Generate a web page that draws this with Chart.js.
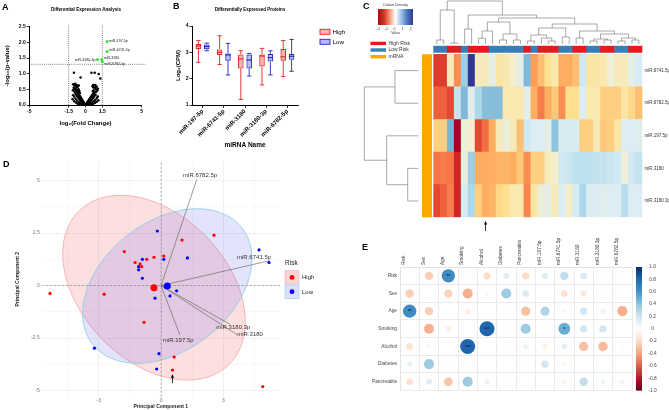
<!DOCTYPE html>
<html>
<head>
<meta charset="utf-8">
<title>miRNA panels</title>
<script src="https://cdn.jsdelivr.net/npm/chart.js@4.4.1/dist/chart.umd.min.js"></script>
<style>
  html, body { margin: 0; padding: 0; background: #fff; }
  #figure { position: relative; width: 669px; height: 410px; overflow: hidden; background: #fff; }
  #figure canvas { position: absolute; }
</style>
</head>
<body>
<div id="figure">
  <canvas id="chartA" width="150" height="140" style="left:0px;top:0px"></canvas>
  <canvas id="chartB" width="220" height="150" style="left:140px;top:0px"></canvas>
  <canvas id="chartC" width="329" height="240" style="left:340px;top:0px"></canvas>
  <canvas id="chartD" width="340" height="260" style="left:0px;top:150px"></canvas>
  <canvas id="chartE" width="329" height="174" style="left:340px;top:236px"></canvas>
</div>
<script>
// ---------- A: volcano ----------
const volcanoPoints = [
  [-0.04,0.02],[-0.08,0.04],[-0.12,0.05],[-0.16,0.08],[-0.2,0.1],[-0.24,0.12],[-0.28,0.15],[-0.32,0.17],
  [-0.36,0.2],[-0.4,0.22],[-0.44,0.24],[-0.48,0.27],[-0.52,0.29],[-0.56,0.31],[-0.6,0.34],[-0.64,0.36],
  [-0.68,0.38],[-0.72,0.41],[-0.76,0.43],[-0.8,0.45],[-0.1,0.01],[-0.18,0.03],[-0.26,0.06],[-0.34,0.1],
  [-0.42,0.13],[-0.5,0.17],[-0.58,0.21],[-0.66,0.25],[-0.74,0.29],[-0.82,0.33],[-0.9,0.37],[-0.3,0.02],
  [-0.45,0.05],[-0.6,0.09],[-0.75,0.14],[-0.88,0.2],[-1.0,0.26],[-1.1,0.31],[-0.55,0.02],[-0.7,0.04],
  [-0.85,0.08],[-1.0,0.12],[-1.15,0.18],
  [0.04,0.02],[0.08,0.04],[0.12,0.06],[0.16,0.08],[0.2,0.1],[0.24,0.12],[0.28,0.14],[0.32,0.16],
  [0.36,0.19],[0.4,0.21],[0.44,0.23],[0.48,0.25],[0.52,0.27],[0.56,0.29],[0.6,0.31],[0.64,0.33],
  [0.68,0.35],[0.72,0.37],[0.76,0.38],[0.8,0.4],[0.1,0.01],[0.18,0.03],[0.26,0.06],[0.34,0.09],
  [0.42,0.12],[0.5,0.15],[0.58,0.18],[0.66,0.22],[0.74,0.26],[0.82,0.3],[0.9,0.33],[0.3,0.02],
  [0.45,0.05],[0.6,0.08],[0.75,0.12],[0.88,0.17],[1.0,0.22],[1.1,0.27],[0.55,0.02],[0.7,0.04],
  [0.85,0.07],[1.0,0.1],[1.15,0.15],
  [-1.1,0.66],[-1.0,0.62],[-0.92,0.68],[-0.85,0.6],[-0.78,0.64],[-1.05,0.55],[-0.95,0.52],[-0.88,0.48],
  [-0.8,0.55],[-0.7,0.58],[-0.62,0.5],[-0.72,0.48],[-0.65,0.42],[-0.55,0.45],[-1.12,0.47],[-0.98,0.42],
  [-0.5,0.38],[-0.6,0.62],
  [0.62,0.6],[0.7,0.56],[0.78,0.62],[0.85,0.55],[0.92,0.5],[1.0,0.58],[1.05,0.46],[0.95,0.42],
  [0.72,0.47],[0.65,0.44],[1.1,0.52],[0.88,0.64],
  [-1.03,1.03],[-0.44,0.88],[0.53,1.03],[0.82,1.03],[1.18,0.99],[1.32,0.85],[0.68,0.64],[0.88,0.59]
];
const sigPoints = [[1.92,2.03],[1.92,1.71],[1.07,1.45],[1.44,1.45],[1.5,1.38]];
const sigLabels = ['miR-197-5p','miR-6741-5p','miR-3180-3p','miR-3180','miR-6782-5p'];
const foldCut = 1.5;
const pCut = 1.3;
const volcanoTicksX = [-5, -1.5, 0, 1.5, 5];

// ---------- B: box plots ----------
const boxLabels = ['miR-197-5p','miR-6741-5p','miR-3180','miR-3180-3p','miR-6782-5p'];
const highMin = [2.62, 2.54, 1.21, 1.76, 2.08];
const highQ1  = [3.13, 2.90, 2.39, 2.46, 2.68];
const highMed = [3.24, 3.00, 2.75, 2.86, 2.83];
const highQ3  = [3.32, 3.11, 2.92, 2.92, 3.13];
const highMax = [3.45, 3.63, 3.06, 3.15, 3.45];
const lowMin  = [3.06, 2.14, 2.10, 2.14, 2.28];
const lowQ1   = [3.12, 2.68, 2.39, 2.65, 2.72];
const lowMed  = [3.22, 2.90, 2.71, 2.80, 2.85];
const lowQ3   = [3.30, 2.96, 2.92, 2.94, 2.94];
const lowMax  = [3.35, 3.34, 2.96, 3.06, 3.49];

// ---------- C: heatmap ----------
const heatSamples = ['S1','S2','S3','S4','S5','S6','S7','S8','S9','S10','S11','S12','S13','S14','S15',
  'S16','S17','S18','S19','S20','S21','S22','S23','S24','S25','S26','S27','S28','S29','S30'];
const riskGroups = ['Low','Low','High','High','Low','High','High','High','Low','Low','Low','Low','Low','High','Low',
  'High','High','High','Low','Low','High','High','Low','Low','High','High','Low','Low','High','High'];
const heatRows = ['miR.6741.5p','miR.6782.5p','miR.197.5p','miR.3180','miR.3180.3p'];
const heatValues = [
  [-1.4,-1.4,-0.1,-0.8,0.8,2.0,-0.1,-0.1,0.2,-0.2,-0.15,0.0,0.2,1.0,-0.7,-0.5,-0.3,-0.15,-0.6,-0.6,-0.5,0.4,-0.2,-0.2,-0.15,0.05,-0.1,-0.1,0.2,0.35],
  [-1.1,-1.1,-1.3,0.5,1.0,0.25,0.7,0.95,0.95,0.95,-0.15,-0.15,-0.15,0.2,-0.6,-0.9,-0.6,-0.45,-0.8,-0.3,-0.3,0.3,-0.15,-0.15,-0.4,-0.4,-0.4,-0.2,-0.35,-0.5],
  [-0.4,-0.4,1.05,-2.0,0.05,0.0,-1.3,-1.0,-0.6,-0.1,0.1,-0.1,-0.5,0.4,0.3,0.3,0.2,0.9,0.35,0.35,0.35,-0.4,-0.4,-0.1,-0.45,-0.4,-0.2,0.3,0.3,0.25],
  [-0.95,-0.9,-0.95,-1.6,0.1,0.8,-0.6,-0.6,-0.6,-0.55,-0.55,-0.6,-0.45,-0.8,-0.4,-0.4,-0.1,0.0,0.4,0.45,0.55,0.55,0.55,0.5,0.5,0.45,0.4,0.05,0.4,0.5],
  [-1.3,-1.1,-0.9,-1.6,0.35,0.7,-0.4,-0.6,-0.55,-0.35,-0.3,-0.15,-0.15,-0.85,-0.2,0.1,0.2,-0.1,0.3,-0.05,0.35,0.7,0.3,0.3,0.25,0.3,0.3,0.6,0.3,0.3]
];
// [height, left, right]; leaves are column / row indices
const colTree = [43,
  [34, [4, 0, 1], [1, 2, 3]],
  [29, [15, 4, 5],
    [26,
      [22, [13, [5.7, 6, 7], 8], [10, [4, 9, 10], [4, 11, 12]]],
      [20,
        [16, [9, [3, 13, 14], [6, 15, [3, 16, 17]]], [7, 18, 19]],
        [13, [6, 20, 21], [10, [5, [3, 22, 23], [4, 24, 25]], [6, [3, 26, 27], [4, 28, 29]]]]]]]];
const rowTree = [54, [23.3, 0, 1], [31.6, 2, [10.6, 3, 4]]];
const keyTicks = [-2, -1, 0, 1, 2];
const arrowColumn = 7;

// ---------- D: PCA ----------
const pcaHigh = [[-5.35,-0.37],[-2.74,-0.41],[-1.77,1.62],[-1.25,1.10],[-1.01,1.03],[-0.93,0.90],[-0.69,1.25],
  [-0.34,1.35],[0.13,1.41],[1.01,2.17],[2.55,2.40],[-0.82,-1.75],[0.63,-3.40],[0.55,-4.02],[4.90,-4.81]];
const pcaLow = [[-0.18,2.60],[-0.90,1.25],[-1.08,0.90],[-1.08,0.75],[-0.90,0.35],[0.13,1.25],[1.27,1.32],
  [4.72,1.70],[5.20,1.10],[-0.29,-0.60],[0.43,-0.49],[0.75,-0.25],[-3.21,-2.98],[-0.10,-3.24],[-0.21,-3.97]];
const centroidHigh = [-0.34, -0.10];
const centroidLow = [0.30, -0.02];
const ellipseHigh = [-0.34, -0.10, 5.14, 3.5, -45];   // cx, cy, semi-major, semi-minor, angle
const ellipseLow = [0.30, -0.02, 4.54, 3.09, 36.9];
const loadingNames = ['miR.6782.5p','miR.6741.5p','miR.3180.3p','miR.3180','miR.197.5p'];
const loadingTips = [[1.72,5.06],[5.25,1.19],[3.32,-1.84],[3.68,-2.35],[0.91,-2.35]];
const loadingLabelAt = [[1.88,5.24],[4.48,1.36],[3.48,-1.98],[4.29,-2.30],[0.83,-2.59]];
const pcaTicksX = [-4.5, -3, -1.5, 0, 1.5, 3, 4.5];
const pcaTicksY = [-5, -3.75, -2.5, -1.25, 0, 1.25, 2.5, 3.75, 5];
const pcaArrow = [0.55, -4.65, -4.22];

// ---------- E: correlation ----------
const corrRows = ['Risk','Sex','Age','Smoking','Alcohol','Diabetes','Pancreatitis'];
const corrCols = ['Risk','Sex','Age','Smoking','Alcohol','Diabetes','Pancreatitis',
  'miR.197.5p','miR.6741.5p','miR.3180','miR.3180.3p','miR.6782.5p'];
const corrValues = [
  [null,-0.25,0.63,0.02,-0.19,0.13,-0.19,0.13,0.25,0.16,0.04,0.01],
  [-0.25,null,-0.23,-0.36,-0.06,0.36,0.16,0,-0.16,-0.13,-0.01,-0.01],
  [0.63,-0.25,null,-0.1,0,-0.02,-0.3,0.3,-0.06,0.19,0.09,-0.36],
  [0.01,-0.36,-0.1,null,0.8,-0.02,0.36,-0.02,0.5,0.19,0.19,0],
  [-0.16,-0.06,0,0.8,null,0.005,0.09,-0.08,0.12,-0.3,-0.32,0.04],
  [0.09,0.36,-0.02,-0.01,0.005,null,-0.04,0.19,-0.06,0,0,0],
  [-0.16,0.13,-0.28,0.36,0.1,-0.04,null,0,-0.08,0.25,0.08,0.08]
];
const corrStars = [['Risk','Age','**'],['Age','Risk','**'],['Smoking','Alcohol','***'],['Alcohol','Smoking','***'],['Smoking','miR.6741.5p','*']];

// ---------- helpers ----------
const FONT = '"Liberation Sans", Arial, Helvetica, sans-serif';
Chart.defaults.font.family = FONT;
Chart.defaults.animation = false;
Chart.defaults.responsive = false;
Chart.defaults.plugins.legend.display = false;
Chart.defaults.plugins.tooltip.enabled = false;

const heatStops = [[-2,'#a50026'],[-1.5,'#d73027'],[-1.0,'#f46d43'],[-0.6,'#fdae61'],[-0.3,'#fee090'],
  [0,'#f3efcf'],[0.3,'#dcedf3'],[0.7,'#abd9e9'],[1.1,'#74add1'],[1.6,'#4575b4'],[2,'#313695']];
const corrStops = [[-1,'#67001f'],[-0.8,'#b2182b'],[-0.6,'#d6604d'],[-0.4,'#f4a582'],[-0.2,'#fddbc7'],
  [0,'#ffffff'],[0.2,'#d1e5f0'],[0.4,'#92c5de'],[0.6,'#4393c3'],[0.8,'#2166ac'],[1,'#053061']];
const keyStops = [[0,'#a50f15'],[0.17,'#d7301f'],[0.35,'#f4a582'],[0.5,'#ffffff'],[0.65,'#a6c8e6'],[0.83,'#4d79c4'],[1,'#313a8f']];

function hexToRgb(h) { const n = parseInt(h.slice(1), 16); return [(n >> 16) & 255, (n >> 8) & 255, n & 255]; }
function rampColor(stops, v) {
  if (v <= stops[0][0]) return stops[0][1];
  for (let i = 1; i < stops.length; i++) {
    if (v <= stops[i][0]) {
      const t = (v - stops[i - 1][0]) / (stops[i][0] - stops[i - 1][0]);
      const a = hexToRgb(stops[i - 1][1]), b = hexToRgb(stops[i][1]);
      return 'rgb(' + a.map((c, k) => Math.round(c + (b[k] - c) * t)).join(',') + ')';
    }
  }
  return stops[stops.length - 1][1];
}
function fnt(size, weight) { return (weight || 'normal') + ' ' + size + 'px ' + FONT; }

// free text drawn on a chart (panel letters, titles)
function notes(items) {
  return {
    id: 'notes',
    afterDraw(chart) {
      const ctx = chart.ctx;
      items.forEach(n => {
        ctx.save();
        ctx.font = n.font;
        ctx.fillStyle = n.color || '#000';
        ctx.textAlign = n.align || 'left';
        ctx.textBaseline = 'middle';
        ctx.translate(n.x, n.y);
        if (n.rot) ctx.rotate(n.rot);
        ctx.fillText(n.text, 0, 0);
        ctx.restore();
      });
    }
  };
}

const prismGrid = { drawOnChartArea: false, color: '#000', lineWidth: 0.8, tickLength: 2.5 };
const prismBorder = { color: '#000', width: 1 };
const dotted = { borderColor: '#222', borderWidth: 0.7, borderDash: [0.8, 1.3], pointRadius: 0, clip: false, fill: false };

// ================= A =================
const sigLabelPlugin = {
  id: 'sigLabels',
  afterDatasetsDraw(chart) {
    const ctx = chart.ctx;
    const meta = chart.getDatasetMeta(0);
    ctx.save();
    ctx.font = fnt(3.6);
    ctx.fillStyle = '#222';
    ctx.textBaseline = 'middle';
    meta.data.forEach((pt, i) => {
      const left = i === 2;
      const dy = i === 3 ? -1.6 : (i === 4 ? 2.4 : (i === 1 ? -1 : 0));
      ctx.textAlign = left ? 'right' : 'left';
      ctx.fillText(sigLabels[i], pt.x + (left ? -2 : 2), pt.y + dy);
    });
    ctx.restore();
  }
};

new Chart(document.getElementById('chartA'), {
  type: 'scatter',
  data: {
    datasets: [
      { data: sigPoints.map(p => ({ x: p[0], y: p[1] })), backgroundColor: '#37e037', pointRadius: 1.5, borderWidth: 0, order: 0 },
      { data: volcanoPoints.map(p => ({ x: p[0], y: p[1] })), backgroundColor: '#000', pointRadius: 1.25, borderWidth: 0, order: 1 },
      Object.assign({ type: 'line', data: [{ x: -foldCut, y: 0 }, { x: -foldCut, y: 2.56 }], order: 2 }, dotted),
      Object.assign({ type: 'line', data: [{ x: foldCut, y: 0 }, { x: foldCut, y: 2.56 }], order: 2 }, dotted),
      Object.assign({ type: 'line', data: [{ x: -5, y: pCut }, { x: 5.4, y: pCut }], order: 2 }, dotted)
    ]
  },
  options: {
    layout: { padding: { left: 0, top: 26.7, right: 8.3, bottom: 0 } },
    scales: {
      x: {
        type: 'linear', min: -5, max: 5,
        afterBuildTicks: s => { s.ticks = volcanoTicksX.map(v => ({ value: v })); },
        afterFit: s => { s.height = 35; },
        ticks: { font: { size: 5, weight: 'bold' }, color: '#000', padding: 1, maxRotation: 0, autoSkip: false, callback: v => String(v) },
        grid: prismGrid, border: prismBorder,
        title: { display: true, text: 'log\u2082(Fold Change)', font: { size: 6, weight: 'bold' }, color: '#000', padding: { top: 0, bottom: 13.4 } }
      },
      y: {
        type: 'linear', min: 0, max: 2.5,
        afterFit: s => { s.width = 29.3; },
        ticks: { stepSize: 0.5, font: { size: 5, weight: 'bold' }, color: '#000', padding: 1, callback: v => v.toFixed(1) },
        grid: prismGrid, border: prismBorder,
        title: { display: true, text: '-log\u2081\u2080(p-value)', font: { size: 6, weight: 'bold' }, color: '#000', padding: { top: 3.4, bottom: 0 } }
      }
    }
  },
  plugins: [sigLabelPlugin, notes([
    { text: 'A', x: 2, y: 8, font: fnt(9, 'bold') },
    { text: 'Differential Expression Analysis', x: 86, y: 10, font: fnt(4.6, 'bold'), align: 'center' }
  ])]
});

// ================= B =================
const boxWhiskers = {
  id: 'boxWhiskers',
  afterDatasetsDraw(chart) {
    const ctx = chart.ctx, y = chart.scales.y;
    chart.data.datasets.forEach((ds, di) => {
      const meta = chart.getDatasetMeta(di);
      const s = ds.stats;
      meta.data.forEach((bar, i) => {
        const half = bar.width / 2;
        const yMax = y.getPixelForValue(s.max[i]), yMin = y.getPixelForValue(s.min[i]);
        ctx.save();
        ctx.strokeStyle = ds.borderColor;
        ctx.lineWidth = 0.9;
        ctx.beginPath();
        ctx.moveTo(bar.x, yMax); ctx.lineTo(bar.x, y.getPixelForValue(s.q3[i]));
        ctx.moveTo(bar.x, y.getPixelForValue(s.q1[i])); ctx.lineTo(bar.x, yMin);
        ctx.moveTo(bar.x - half * 0.8, yMax); ctx.lineTo(bar.x + half * 0.8, yMax);
        ctx.moveTo(bar.x - half * 0.8, yMin); ctx.lineTo(bar.x + half * 0.8, yMin);
        ctx.stroke();
        ctx.lineWidth = 1.1;
        ctx.beginPath();
        const yMed = y.getPixelForValue(s.med[i]);
        ctx.moveTo(bar.x - half, yMed); ctx.lineTo(bar.x + half, yMed);
        ctx.stroke();
        ctx.restore();
      });
    });
  }
};
const legendB = {
  id: 'legendB',
  afterDraw(chart) {
    const ctx = chart.ctx;
    [['High', '#e82020', 'rgba(238,40,40,0.35)', 29.3], ['Low', '#2222d0', 'rgba(60,60,225,0.35)', 39.3]].forEach(([t, stroke, fill, y]) => {
      ctx.save();
      ctx.fillStyle = fill; ctx.strokeStyle = stroke; ctx.lineWidth = 0.9;
      ctx.fillRect(180, y, 10, 5); ctx.strokeRect(180, y, 10, 5);
      ctx.fillStyle = '#000'; ctx.font = fnt(6.2); ctx.textBaseline = 'middle';
      ctx.fillText(t, 192.5, y + 2.6);
      ctx.restore();
    });
  }
};

new Chart(document.getElementById('chartB'), {
  type: 'bar',
  data: {
    labels: boxLabels,
    datasets: [
      { label: 'High', data: highQ1.map((q, i) => [q, highQ3[i]]), backgroundColor: 'rgba(238,40,40,0.35)', borderColor: '#e82020',
        borderWidth: 1, borderSkipped: false, barPercentage: 0.66, categoryPercentage: 0.79,
        stats: { min: highMin, q1: highQ1, med: highMed, q3: highQ3, max: highMax } },
      { label: 'Low', data: lowQ1.map((q, i) => [q, lowQ3[i]]), backgroundColor: 'rgba(60,60,225,0.35)', borderColor: '#2222d0',
        borderWidth: 1, borderSkipped: false, barPercentage: 0.66, categoryPercentage: 0.79,
        stats: { min: lowMin, q1: lowQ1, med: lowMed, q3: lowQ3, max: lowMax } }
    ]
  },
  options: {
    layout: { padding: { left: 0, top: 26, right: 62, bottom: 0 } },
    scales: {
      x: {
        afterFit: s => { s.height = 45; },
        ticks: { font: { size: 6, weight: 'bold' }, color: '#000', maxRotation: 45, minRotation: 45, padding: 0, autoSkip: false },
        grid: Object.assign({ offset: false }, prismGrid, { tickLength: 3 }), border: prismBorder,
        title: { display: true, text: 'miRNA Name', font: { size: 6.5, weight: 'bold' }, color: '#000', padding: { top: 0, bottom: 1 } }
      },
      y: {
        min: 1, max: 4,
        afterFit: s => { s.width = 52; },
        ticks: { stepSize: 1, font: { size: 5, weight: 'bold' }, color: '#000', padding: 1 },
        grid: prismGrid, border: prismBorder,
        title: { display: true, text: 'Log\u2082(CPM)', font: { size: 6, weight: 'bold' }, color: '#000', padding: { top: 34.7, bottom: 0 } }
      }
    }
  },
  plugins: [boxWhiskers, legendB, notes([
    { text: 'B', x: 33, y: 7, font: fnt(9, 'bold') },
    { text: 'Differentially Expressed Proteins', x: 110, y: 10, font: fnt(4.5, 'bold'), align: 'center' }
  ])]
});

// ================= C =================
const annGap = 0.06, annHeight = 0.204;
function drawTree(ctx, node, pt) {
  if (typeof node === 'number') return { p: node, h: 0 };
  const a = drawTree(ctx, node[1], pt), b = drawTree(ctx, node[2], pt);
  const h = node[0];
  let q = pt(a.p, a.h); ctx.moveTo(q[0], q[1]);
  q = pt(a.p, h); ctx.lineTo(q[0], q[1]);
  q = pt(b.p, h); ctx.lineTo(q[0], q[1]);
  q = pt(b.p, b.h); ctx.lineTo(q[0], q[1]);
  return { p: (a.p + b.p) / 2, h: h };
}
const heatDecor = {
  id: 'heatDecor',
  afterDraw(chart) {
    const ctx = chart.ctx, xs = chart.scales.x, ys = chart.scales.y;
    ctx.save();
    // dendrograms
    ctx.strokeStyle = '#6e6e6e'; ctx.lineWidth = 0.6;
    ctx.beginPath();
    drawTree(ctx, colTree, (p, h) => [xs.getPixelForValue(p), 44 - h]);
    drawTree(ctx, rowTree, (p, h) => [78.3 - h, ys.getPixelForValue(heatRows.length - 0.5 - p)]);
    ctx.stroke();
    // mRNA annotation strip
    const top = ys.getPixelForValue(heatRows.length), bot = ys.getPixelForValue(0);
    ctx.fillStyle = '#ffa500';
    ctx.fillRect(82, top, 10, bot - top);
    // colour key
    const g = ctx.createLinearGradient(38, 0, 73, 0);
    keyStops.forEach(s => g.addColorStop(s[0], s[1]));
    ctx.fillStyle = g;
    ctx.fillRect(38, 9, 35, 16);
    ctx.fillStyle = '#333'; ctx.textAlign = 'center'; ctx.textBaseline = 'middle';
    ctx.font = fnt(3.8);
    ctx.fillText('Colour Density', 55.5, 5);
    ctx.font = fnt(3.5);
    keyTicks.forEach((t, i) => ctx.fillText(String(t), 38.3 + i * 8.1, 29));
    ctx.fillText('Value', 55.5, 33);
    // annotation legend
    [['High Risk', '#e41a1c', 41.7], ['Low Risk', '#377eb8', 48.3], ['mRNA', '#ffa500', 55]].forEach(([t, c, y]) => {
      ctx.fillStyle = c; ctx.fillRect(30.5, y, 15.5, 3.4);
      ctx.fillStyle = '#333'; ctx.textAlign = 'left'; ctx.font = fnt(5);
      ctx.fillText(t, 48.5, y + 1.8);
    });
    // arrow under the marked sample
    const ax = xs.getPixelForValue(arrowColumn);
    ctx.strokeStyle = '#000'; ctx.fillStyle = '#000'; ctx.lineWidth = 0.8;
    ctx.beginPath(); ctx.moveTo(ax, 231); ctx.lineTo(ax, 223.5); ctx.stroke();
    ctx.beginPath(); ctx.moveTo(ax, 221); ctx.lineTo(ax - 1.6, 224.5); ctx.lineTo(ax + 1.6, 224.5); ctx.closePath(); ctx.fill();
    ctx.restore();
  }
};
const heatDatasets = [];
for (let r = heatRows.length - 1; r >= 0; r--) {
  heatDatasets.push({ data: heatValues[r].map(() => 1), backgroundColor: heatValues[r].map(v => rampColor(heatStops, v)) });
}
heatDatasets.push({ data: riskGroups.map(() => annGap), backgroundColor: 'rgba(0,0,0,0)' });
heatDatasets.push({ data: riskGroups.map(() => annHeight), backgroundColor: riskGroups.map(g => g === 'High' ? '#e41a1c' : '#377eb8') });
heatDatasets.forEach(d => Object.assign(d, { barPercentage: 1, categoryPercentage: 1, borderWidth: 0 }));

new Chart(document.getElementById('chartC'), {
  type: 'bar',
  data: { labels: heatSamples, datasets: heatDatasets },
  options: {
    layout: { padding: { left: 93.3, top: 45.7, right: 0, bottom: 22.7 } },
    scales: {
      x: { stacked: true, display: false },
      y: {
        type: 'linear', stacked: true, position: 'right', min: 0, max: heatRows.length + annGap + annHeight,
        afterFit: s => { s.width = 26.6; },
        afterBuildTicks: s => { s.ticks = heatRows.map((_, i) => ({ value: heatRows.length - 0.5 - i })); },
        ticks: { callback: (v, i) => heatRows[i], font: { size: 4.5 }, color: '#333', padding: 2, autoSkip: false },
        grid: { display: false, drawTicks: false }, border: { display: false }
      }
    }
  },
  plugins: [heatDecor, notes([{ text: 'C', x: 23, y: 7, font: fnt(9, 'bold') }])]
});

// ================= D =================
const ellipsePlugin = {
  id: 'ellipses',
  beforeDatasetsDraw(chart) {
    const ctx = chart.ctx, xs = chart.scales.x, ys = chart.scales.y;
    [[ellipseHigh, 'rgba(240,100,100,0.2)', '#f4a4a4'], [ellipseLow, 'rgba(100,100,232,0.18)', '#86cbe8']].forEach(([e, fill, stroke]) => {
      const th = e[4] * Math.PI / 180;
      ctx.save();
      ctx.beginPath();
      for (let k = 0; k <= 144; k++) {
        const t = k / 144 * 2 * Math.PI;
        const dx = e[2] * Math.cos(t) * Math.cos(th) - e[3] * Math.sin(t) * Math.sin(th);
        const dy = e[2] * Math.cos(t) * Math.sin(th) + e[3] * Math.sin(t) * Math.cos(th);
        const px = xs.getPixelForValue(e[0] + dx), py = ys.getPixelForValue(e[1] + dy);
        if (k) ctx.lineTo(px, py); else ctx.moveTo(px, py);
      }
      ctx.closePath();
      ctx.fillStyle = fill; ctx.fill();
      ctx.strokeStyle = stroke; ctx.lineWidth = 0.8; ctx.stroke();
      ctx.restore();
    });
  },
  afterDatasetsDraw(chart) {
    const ctx = chart.ctx, xs = chart.scales.x, ys = chart.scales.y;
    ctx.save();
    ctx.font = fnt(6); ctx.fillStyle = '#333'; ctx.textAlign = 'center'; ctx.textBaseline = 'middle';
    loadingNames.forEach((n, i) => ctx.fillText(n, xs.getPixelForValue(loadingLabelAt[i][0]), ys.getPixelForValue(loadingLabelAt[i][1])));
    const ax = xs.getPixelForValue(pcaArrow[0]), y0 = ys.getPixelForValue(pcaArrow[1]), y1 = ys.getPixelForValue(pcaArrow[2]);
    ctx.strokeStyle = '#000'; ctx.fillStyle = '#000'; ctx.lineWidth = 0.8;
    ctx.beginPath(); ctx.moveTo(ax, y0); ctx.lineTo(ax, y1 + 2.5); ctx.stroke();
    ctx.beginPath(); ctx.moveTo(ax, y1); ctx.lineTo(ax - 1.6, y1 + 3.4); ctx.lineTo(ax + 1.6, y1 + 3.4); ctx.closePath(); ctx.fill();
    // legend
    ctx.textAlign = 'left';
    ctx.font = fnt(6.5); ctx.fillStyle = '#222';
    ctx.fillText('Risk', 285, 113.3);
    [['High', '#f9d4d4', '#f4b4b4', '#f00', 120.7], ['Low', '#dedef7', '#9ad3ef', '#00f', 135]].forEach(([t, fill, stroke, dot, y]) => {
      ctx.fillStyle = fill; ctx.fillRect(285, y, 14, 13.4);
      ctx.strokeStyle = stroke; ctx.lineWidth = 0.7; ctx.strokeRect(285, y, 14, 13.4);
      ctx.fillStyle = dot; ctx.beginPath(); ctx.arc(292, y + 6.7, 2.4, 0, 2 * Math.PI); ctx.fill();
      ctx.fillStyle = '#222'; ctx.font = fnt(6);
      ctx.fillText(t, 302, y + 6.9);
    });
    ctx.restore();
  }
};
const zeroLine = { type: 'line', borderColor: '#7a7a7a', borderWidth: 0.6, borderDash: [2, 2], pointRadius: 0, fill: false, order: 4 };
const pcaDatasets = [
  { data: [{ x: centroidHigh[0], y: centroidHigh[1] }], backgroundColor: '#f00', pointRadius: 3.5, borderWidth: 0, order: 0 },
  { data: [{ x: centroidLow[0], y: centroidLow[1] }], backgroundColor: '#00f', pointRadius: 3.5, borderWidth: 0, order: 0 },
  { data: pcaHigh.map(p => ({ x: p[0], y: p[1] })), backgroundColor: '#f00', pointRadius: 1.6, borderWidth: 0, order: 1 },
  { data: pcaLow.map(p => ({ x: p[0], y: p[1] })), backgroundColor: '#00f', pointRadius: 1.6, borderWidth: 0, order: 1 },
  Object.assign({}, zeroLine, { data: [{ x: 0, y: -5.29 }, { x: 0, y: 5.9 }] }),
  Object.assign({}, zeroLine, { data: [{ x: -5.75, y: 0 }, { x: 5.73, y: 0 }] })
];
loadingTips.forEach(t => pcaDatasets.push({ type: 'line', data: [{ x: 0, y: 0 }, { x: t[0], y: t[1] }],
  borderColor: '#5a5a5a', borderWidth: 0.6, pointRadius: 0, fill: false, order: 2 }));

new Chart(document.getElementById('chartD'), {
  type: 'scatter',
  data: { datasets: pcaDatasets },
  options: {
    layout: { padding: { left: 0, top: 11.7, right: 60, bottom: 0 } },
    scales: {
      x: {
        type: 'linear', min: -5.75, max: 5.73,
        afterBuildTicks: s => { s.ticks = pcaTicksX.map(v => ({ value: v })); },
        afterFit: s => { s.height = 13.3; },
        ticks: { font: { size: 5 }, color: '#777', padding: 1, maxRotation: 0, autoSkip: false, callback: v => (v % 3 === 0 ? String(v) : '') },
        grid: { color: c => (c.tick && c.tick.value % 3 === 0 ? '#e6e6e6' : '#f3f3f3'), lineWidth: 0.6, drawTicks: false },
        border: { display: false },
        title: { display: true, text: 'Principal Component 1', font: { size: 5, weight: 'bold' }, color: '#222', padding: { top: 0, bottom: 0 } }
      },
      y: {
        type: 'linear', min: -5.29, max: 5.9,
        afterBuildTicks: s => { s.ticks = pcaTicksY.map(v => ({ value: v })); },
        afterFit: s => { s.width = 41.7; },
        ticks: { font: { size: 5 }, color: '#777', padding: 2, autoSkip: false, callback: v => (v % 2.5 === 0 ? String(v) : '') },
        grid: { color: c => (c.tick && c.tick.value % 2.5 === 0 ? '#e6e6e6' : '#f3f3f3'), lineWidth: 0.6, drawTicks: false },
        border: { display: false },
        title: { display: true, text: 'Principal Component 2', font: { size: 5, weight: 'bold' }, color: '#222', padding: { top: 14.7, bottom: 0 } }
      }
    }
  },
  plugins: [ellipsePlugin, notes([{ text: 'D', x: 3, y: 15, font: fnt(9, 'bold') }])]
});

// ================= E =================
const corrPoints = [];
corrRows.forEach((rn, r) => corrCols.forEach((cn, c) => {
  const v = corrValues[r][c];
  if (v !== null) corrPoints.push({ x: cn, y: rn, v: v });
}));
const corrDecor = {
  id: 'corrDecor',
  afterDatasetsDraw(chart) {
    const ctx = chart.ctx, xs = chart.scales.x, ys = chart.scales.y, cb = chart.scales.y2;
    ctx.save();
    ctx.font = fnt(4.6, 'bold'); ctx.fillStyle = '#142a66'; ctx.textAlign = 'center'; ctx.textBaseline = 'middle';
    corrStars.forEach(s => ctx.fillText(s[2], xs.getPixelForValue(xs.parse(s[1])), ys.getPixelForValue(ys.parse(s[0])) + 0.8));
    const t = cb.getPixelForValue(1), b = cb.getPixelForValue(-1);
    const g = ctx.createLinearGradient(0, t, 0, b);
    corrStops.forEach(s => g.addColorStop((1 - s[0]) / 2, s[1]));
    ctx.fillStyle = g;
    ctx.fillRect(296, t, 6, b - t);
    ctx.restore();
  }
};
const corrGrid = { offset: true, color: '#dedede', lineWidth: 0.6, drawTicks: false };

new Chart(document.getElementById('chartE'), {
  type: 'bubble',
  data: {
    datasets: [{
      data: corrPoints,
      backgroundColor: c => rampColor(corrStops, c.raw.v),
      borderWidth: 0,
      radius: c => Math.sqrt(Math.abs(c.raw.v)) * 8.4,
      hoverRadius: 0
    }]
  },
  options: {
    layout: { padding: { left: 0, top: 0, right: 0, bottom: 8 } },
    scales: {
      x: {
        type: 'category', labels: corrCols, position: 'top', offset: true,
        afterFit: s => { s.height = 31; },
        ticks: { font: { size: 4.8 }, color: '#444', maxRotation: 90, minRotation: 90, padding: 2, autoSkip: false },
        grid: corrGrid, border: { color: '#dedede', width: 0.6 }
      },
      y: {
        type: 'category', labels: corrRows, offset: true,
        afterFit: s => { s.width = 60; },
        ticks: { font: { size: 4.8 }, color: '#444', padding: 3, autoSkip: false },
        grid: corrGrid, border: { color: '#dedede', width: 0.6 }
      },
      y2: {
        type: 'linear', position: 'right', min: -1, max: 1,
        afterFit: s => { s.width = 37; },
        ticks: { stepSize: 0.2, font: { size: 4.8 }, color: '#444', padding: 16.5, crossAlign: 'center' },
        grid: { display: false, drawTicks: false }, border: { display: false }
      }
    }
  },
  plugins: [corrDecor, notes([{ text: 'E', x: 22, y: 12, font: fnt(9, 'bold') }])]
});
</script>
</body>
</html>
